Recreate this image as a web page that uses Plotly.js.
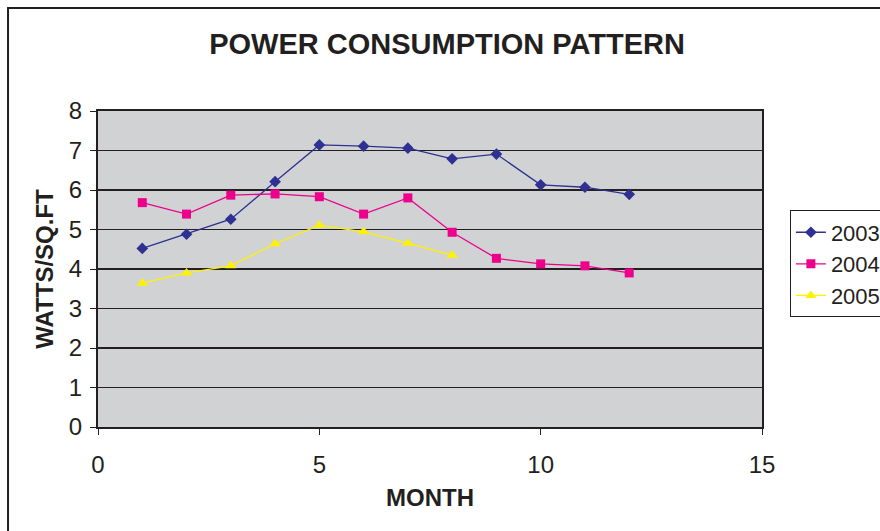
<!DOCTYPE html>
<html><head><meta charset="utf-8">
<script src="https://cdn.plot.ly/plotly-3.0.1.min.js"></script>
<style>html,body{margin:0;padding:0;background:#fff;}#chart{width:880px;height:531px;}</style>
</head><body><div id="chart"></div>
<script>
const months2003 = [1,2,3,4,5,6,7,8,9,10,11,12];
const values2003 = [4.52,4.88,5.26,6.21,7.14,7.11,7.06,6.79,6.91,6.13,6.07,5.89];
const months2004 = [1,2,3,4,5,6,7,8,9,10,11,12];
const values2004 = [5.68,5.39,5.87,5.90,5.83,5.39,5.80,4.93,4.27,4.13,4.08,3.90];
const months2005 = [1,2,3,4,5,6,7,8];
const values2005 = [3.64,3.90,4.08,4.64,5.11,4.94,4.65,4.35];
const seriesNames = ['2003','2004','2005'];
const xTicks = [0,5,10,15];

const font = 'Liberation Sans, Arial, sans-serif';
const traces = [
  {x: months2003, y: values2003, name: seriesNames[0], mode: 'lines+markers',
   line: {color: '#2e3192', width: 1.3}, marker: {symbol: 'diamond', size: 9, color: '#2e3192'}},
  {x: months2004, y: values2004, name: seriesNames[1], mode: 'lines+markers',
   line: {color: '#ec008c', width: 1.3}, marker: {symbol: 'square', size: 9, color: '#ec008c'}},
  {x: months2005, y: values2005, name: seriesNames[2], mode: 'lines+markers',
   line: {color: '#fff200', width: 1.3}, marker: {symbol: 'triangle-up', size: 10, color: '#fff200'}}
];
const layout = {
  width: 880, height: 531,
  margin: {l: 98, r: 118, t: 111, b: 104, autoexpand: false},
  paper_bgcolor: '#ffffff', plot_bgcolor: '#d1d2d4',
  font: {family: font, color: '#231f20'},
  title: {text: '<b>POWER CONSUMPTION PATTERN</b>', font: {size: 29, family: font, color: '#231f20'},
          x: 0.508, xanchor: 'center', y: 0.917, yanchor: 'middle'},
  xaxis: {range: [0, 15], tickvals: xTicks, ticks: 'outside', ticklen: 6, tickcolor: '#231f20',
          showgrid: false, zeroline: false, showline: true, linecolor: '#231f20', linewidth: 2, mirror: true,
          tickfont: {size: 24, family: font}, fixedrange: true, ticklabelstandoff: 9,
          title: {text: '<b>MONTH</b>', font: {size: 24, family: font}, standoff: 12}},
  yaxis: {range: [0, 8], dtick: 1, ticks: 'outside', ticklen: 6, tickcolor: '#231f20',
          showgrid: true, gridcolor: '#231f20', gridwidth: 1.3, zeroline: false,
          showline: true, linecolor: '#231f20', linewidth: 2, mirror: true,
          tickfont: {size: 24, family: font}, fixedrange: true, ticklabelstandoff: 3,
          title: {text: '<b>WATTS/SQ.FT</b>', font: {size: 24, family: font}, standoff: 8}},
  legend: {x: 1.042, xanchor: 'left', y: 0.516, yanchor: 'middle', bgcolor: '#ffffff',
           bordercolor: '#231f20', borderwidth: 1, font: {size: 22, family: font}, tracegroupgap: 0},
  shapes: [
    {type: 'rect', xref: 'paper', yref: 'paper', x0: -0.1355, x1: 2, y0: -0.5, y1: 1.326,
     line: {color: '#231f20', width: 2}, fillcolor: 'rgba(0,0,0,0)', layer: 'below'}
  ],
  showlegend: true
};
Plotly.newPlot('chart', traces, layout, {displayModeBar: false, staticPlot: true});
</script>
</body></html>
